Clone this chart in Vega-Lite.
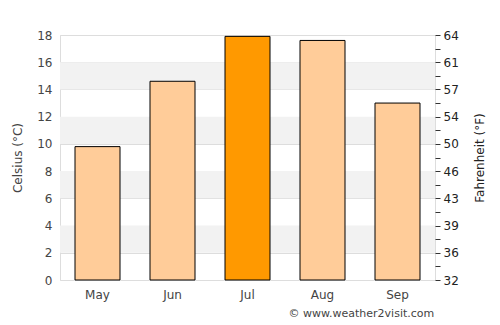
{
  "$schema": "https://vega.github.io/schema/vega-lite/v6.json",
  "width": 375,
  "height": 245,
  "autosize": {"type": "none"},
  "padding": {"left": 60, "top": 35, "right": 65, "bottom": 45},
  "config": {
    "font": "DejaVu Sans",
    "view": {"stroke": "#dddddd"},
    "axis": {"labelOverlap": false}
  },
  "title": {
    "text": "© www.weather2visit.com",
    "orient": "bottom",
    "anchor": "end",
    "fontSize": 11,
    "fontWeight": "normal",
    "color": "#444444",
    "offset": 8,
    "dx": -51
  },
  "datasets": {
    "temps": [
      {"month": "May", "c": 9.8, "hot": "no"},
      {"month": "Jun", "c": 14.6, "hot": "no"},
      {"month": "Jul", "c": 17.9, "hot": "yes"},
      {"month": "Aug", "c": 17.6, "hot": "no"},
      {"month": "Sep", "c": 13.0, "hot": "no"}
    ],
    "bands": [
      {"lo": 2, "hi": 4},
      {"lo": 6, "hi": 8},
      {"lo": 10, "hi": 12},
      {"lo": 14, "hi": 16}
    ]
  },
  "layer": [
    {
      "layer": [
        {
          "data": {"name": "bands"},
          "mark": {"type": "rect", "color": "#f2f2f2"},
          "encoding": {
            "y": {"field": "lo", "type": "quantitative", "scale": {"domain": [0, 18]},
              "axis": {"orient": "left", "values": [0, 2, 4, 6, 8, 10, 12, 14, 16, 18], "labelOverlap": false, "grid": true, "gridColor": "#dddddd", "ticks": false, "domain": false, "labelPadding": 8, "labelFontSize": 12, "labelColor": "#444444", "title": "Celsius (°C)", "titleFontSize": 12, "titleFontWeight": "normal", "titleColor": "#444444", "titlePadding": 12}},
            "y2": {"field": "hi"}
          }
        },
        {
          "data": {"name": "temps"},
          "mark": {"type": "bar", "stroke": "#000000", "strokeWidth": 1},
          "encoding": {
            "x": {"field": "month", "type": "nominal", "sort": null, "scale": {"paddingInner": 0.4, "paddingOuter": 0.2},
              "axis": {"title": null, "labelAngle": 0, "ticks": false, "domain": false, "labelPadding": 9, "labelFontSize": 12, "labelColor": "#444444"}},
            "y": {"field": "c", "type": "quantitative",
              "axis": {"orient": "left", "values": [0, 2, 4, 6, 8, 10, 12, 14, 16, 18], "labelOverlap": false, "grid": true, "gridColor": "#dddddd", "ticks": false, "domain": false, "labelPadding": 8, "labelFontSize": 12, "labelColor": "#444444", "title": "Celsius (°C)", "titleFontSize": 12, "titleFontWeight": "normal", "titleColor": "#444444", "titlePadding": 12}},
            "color": {"field": "hot", "type": "nominal", "scale": {"domain": ["no", "yes"], "range": ["#ffcc99", "#ff9900"]}, "legend": null}
          }
        }
      ]
    },
    {
      "data": {"name": "temps"},
      "mark": {"type": "point", "opacity": 0},
      "encoding": {
        "x": {"field": "month", "type": "nominal", "sort": null},
        "y": {"field": "c", "type": "quantitative", "scale": {"domain": [0, 18]},
          "axis": {"orient": "right", "values": [0,1,2,3,4,5,6,7,8,9,10,11,12,13,14,15,16,17,18], "labelExpr": "datum.value % 2 == 0 ? format(datum.value * 1.8 + 32, '.0f') : ''", "labelOverlap": false, "grid": false, "domain": false, "ticks": true, "tickSize": 5, "tickColor": "#333333", "labelPadding": 3, "labelFontSize": 12, "labelColor": "#222222", "title": "Fahrenheit (°F)", "titleFontSize": 12, "titleFontWeight": "normal", "titleColor": "#222222", "titleAngle": 270, "titleBaseline": "top", "titlePadding": 16}}
      }
    }
  ],
  "resolve": {"scale": {"y": "independent"}, "axis": {"y": "independent"}}
}
